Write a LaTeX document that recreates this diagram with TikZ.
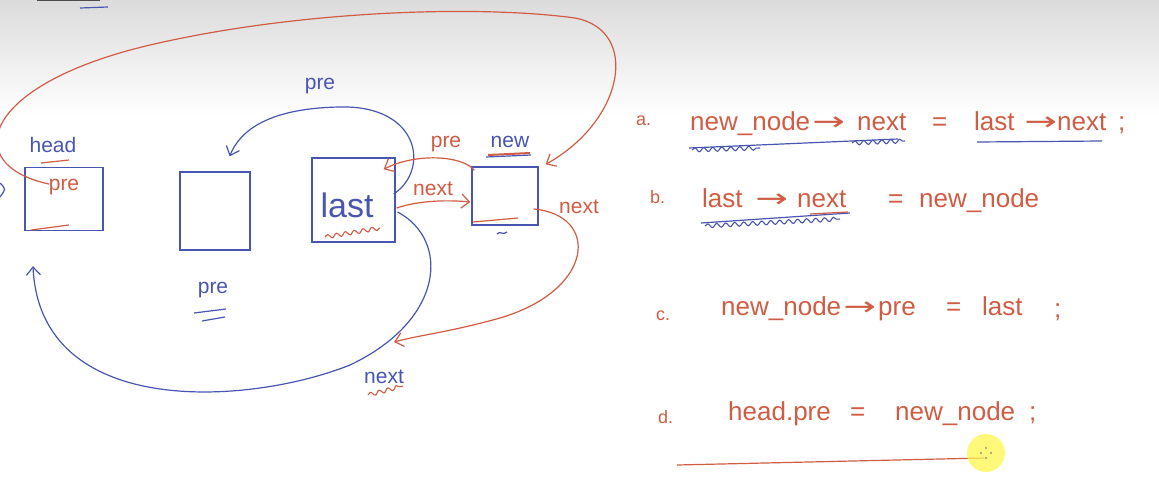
\documentclass[tikz,border=0pt]{standalone}
\usepackage{fontspec}
\setmainfont{Liberation Sans}
\newfontfamily\arrfont{DejaVu Sans}
\usetikzlibrary{arrows.meta,decorations.pathmorphing}
\definecolor{hred}{RGB}{208,92,68}
\definecolor{hblue}{RGB}{72,86,178}
\begin{document}
\begin{tikzpicture}[x=1pt,y=-1pt,
  box/.style={draw=hblue,line width=1.3pt,inner sep=0pt},
  lbl/.style={font=\fontsize{21}{21}\selectfont,inner sep=0pt},
  tok/.style={font=\fontsize{26}{26}\selectfont,inner sep=0pt,anchor=base west,text=hred},
  itm/.style={font=\fontsize{18}{18}\selectfont,inner sep=0pt,anchor=base west,text=hred},
  arw/.style={font=\arrfont\fontsize{26}{26}\selectfont,inner sep=0pt,anchor=base west,text=hred,xscale=1.5},
  conn/.style={line width=1.2pt,-{Straight Barb[length=8pt,width=14pt]}},
  stroke/.style={line width=1.2pt},
  wig/.style={line width=1.1pt,decorate,decoration={snake,amplitude=2pt,segment length=9pt}}]
\useasboundingbox (0,0) rectangle (1159,480);
\fill[white] (0,0) rectangle (1159,480);
\shade[top color=black!14,bottom color=white] (0,0) rectangle (1159,115);
\clip (0,0) rectangle (1159,480);
% top-left marks
\draw[black!70,line width=1.5pt] (37,0) -- (100,0);
\draw[hblue,stroke] (80,8) -- (108,7);
% boxes
\node[box,minimum width=78pt,minimum height=63pt] (head) at (64,199) {};
\node[box,minimum width=70pt,minimum height=78pt] (mid) at (215,211) {};
\node[box,minimum width=83pt,minimum height=84pt] (last) at (353.5,200) {};
\node[box,minimum width=66pt,minimum height=58pt] (new) at (505,196) {};
% labels in the diagram
\node[lbl,text=hblue] (lhead) at (53,145) {head};
\draw[hred,stroke] (41,163) -- (69,160);
\node[lbl,text=hred] (lheadpre) at (64,187) {pre};
\draw[hred,stroke] (31,230) -- (69,225);
\node[lbl,text=hblue] (lmid) at (213,290) {pre};
\draw[hblue,stroke] (194,313) -- (226,309);
\draw[hblue,stroke] (202,321) -- (225,317);
\node[font=\fontsize{34}{34}\selectfont,inner sep=0pt,text=hblue] (llast) at (347,205) {last};
\draw[hred,wig] (325,237) -- (380,228);
\node[lbl,text=hblue] (lnew) at (510,142) {new};
\draw[hred,line width=2pt] (488,155) -- (530,153);
\draw[hblue,stroke] (486,157) -- (531,155);
\draw[hred,stroke] (473,222) -- (518,218);
\draw[hblue,stroke] (497,234) .. controls (500,230) and (503,236) .. (507,232);
\node[lbl,text=hblue] (ltoppre) at (320,86) {pre};
\node[lbl,text=hred] (lrpre) at (446,144) {pre};
\node[lbl,text=hred] (lrnext) at (433,189) {next};
\node[lbl,text=hred] (lrnext2) at (579,207) {next};
\node[lbl,text=hblue] (lbnext) at (384,377) {next};
\draw[hred,wig] (368,395) -- (403,386);
\draw[hblue,stroke] (0,183) .. controls (6,189) .. (0,197);
% connectors
\coordinate (nx) at (394,342);
\draw[hblue,conn] ([shift={(-2,-6)}]last.east) .. controls (430,170) and (420,105) .. (340,107)
   .. controls (270,108) and (240,130) .. ([shift={(-21,-15)}]mid.north east);
\draw[hblue,conn] ([shift={(2,12)}]last.east) .. controls (450,240) and (445,320) .. (350,365)
   .. controls (250,405) and (40,420) .. ([shift={(-31,35)}]head.south);
\draw[hred,conn] ([shift={(-15,-15)}]head.center) .. controls (-40,165) and (-20,85) .. (150,45)
   .. controls (300,10) and (480,5) .. (575,18)
   .. controls (640,30) and (625,120) .. ([shift={(7,-2)}]new.north east);
\draw[hred,conn] ([shift={(3,4)}]new.north west) .. controls (462,155) and (415,153) .. ([shift={(-12,12)}]last.north east);
\draw[hred,conn] ([shift={(1,8)}]last.east) .. controls (420,200) and (450,200) .. ([shift={(-1,6)}]new.west);
\draw[hred,conn] ([shift={(-5,13)}]new.east) .. controls (600,215) and (595,290) .. (500,318)
   .. controls (450,332) and (420,335) .. (nx);
% statements
\node[itm] (ia) at (636,125) {a.};
\node[tok] (a1) at (690,130) {new\_node};
\node[arw] (a2) at (812,130) {→};
\node[tok] (a3) at (857,130) {next};
\node[tok] (a4) at (932,130) {=};
\node[tok] (a5) at (974,130) {last};
\node[arw] (a6) at (1024,130) {→};
\node[tok] (a7) at (1057,130) {next};
\node[tok] (a8) at (1118,130) {;};
\draw[hblue,stroke] (689,148) -- (898,139);
\draw[hblue,wig] (692,150) -- (760,148);
\draw[hblue,wig] (852,143) -- (905,141);
\draw[hblue,stroke] (977,142) -- (1102,141);
\node[itm] (ib) at (650,203) {b.};
\node[tok] (b1) at (702,207) {last};
\node[arw] (b2) at (755,207) {→};
\node[tok] (b3) at (797,207) {next};
\node[tok] (b4) at (888,207) {=};
\node[tok] (b5) at (919,207) {new\_node};
\draw[hblue,stroke] (701,223) -- (850,213);
\draw[hblue,wig] (705,226) -- (840,219);
\draw[hred,stroke] (810,214) -- (848,212);
\node[itm] (ic) at (656,320) {c.};
\node[tok] (c1) at (721,315) {new\_node};
\node[arw] (c2) at (843,315) {→};
\node[tok] (c3) at (878,315) {pre};
\node[tok] (c4) at (946,315) {=};
\node[tok] (c5) at (982,315) {last};
\node[tok] (c6) at (1054,317) {;};
\node[itm] (id) at (658,423) {d.};
\node[tok] (d1) at (728,420) {head.pre};
\node[tok] (d2) at (850,420) {=};
\node[tok] (d3) at (895,420) {new\_node};
\node[tok] (d4) at (1029,420) {;};
\coordinate (ue) at (984,458);
\draw[hred,stroke] (677,465) -- (ue);
\fill[yellow!70!white,opacity=0.75] (986,453) circle (19);
\fill[black!60] (986,448) circle (0.8) (981,453) circle (0.8) (991,453) circle (0.8) (986,458) circle (0.8);
\end{tikzpicture}
\end{document}
